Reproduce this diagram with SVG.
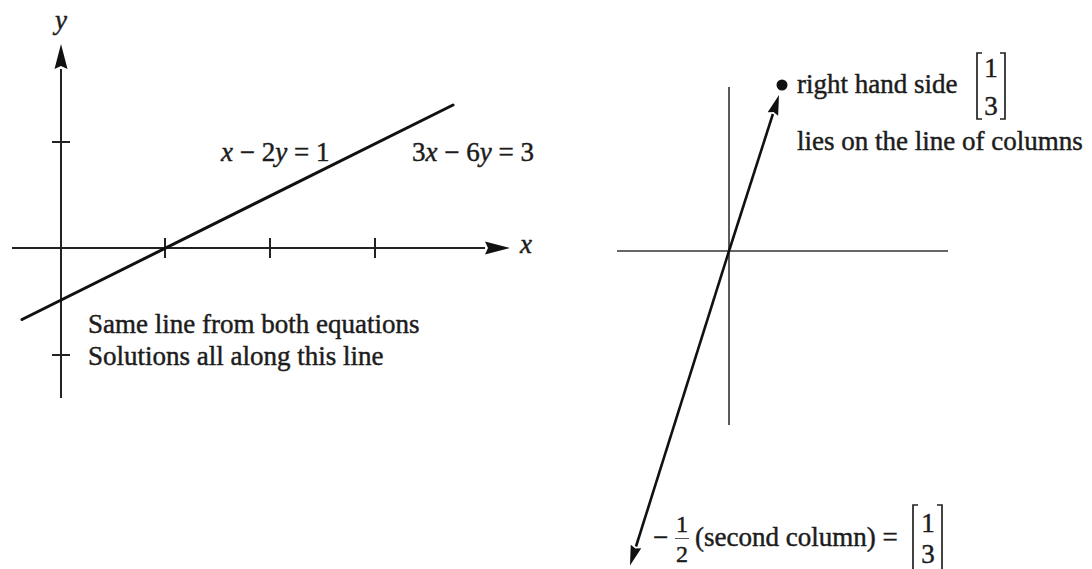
<svg xmlns="http://www.w3.org/2000/svg" width="1092" height="569" viewBox="0 0 1092 569">
<style>
  .t { font-family: "Liberation Serif", "Times New Roman", serif; font-size: 27px; fill: #1c1c1c; stroke: #1c1c1c; stroke-width: 0.45; }
  .i { font-style: italic; }
  .ax { stroke: #222; stroke-width: 2; fill: none; }
  .ax2 { stroke: #333; stroke-width: 1.6; fill: none; }
  .ln { stroke: #111; stroke-width: 3; fill: none; stroke-linecap: round; }
  .vec { stroke: #111; stroke-width: 2.6; fill: none; }
  .br { stroke: #222; stroke-width: 1.7; fill: none; }
</style>
<defs>
  <marker id="bigHead" markerUnits="userSpaceOnUse" markerWidth="26" markerHeight="14" refX="0" refY="6.5" orient="auto" overflow="visible">
    <path d="M0,0 L25,6.5 L0,13 L3,6.5 z" fill="#111"/>
  </marker>
  <marker id="vecHead" markerUnits="userSpaceOnUse" markerWidth="22" markerHeight="12" refX="0" refY="5.5" orient="auto" overflow="visible">
    <path d="M0,0 L20,5.5 L0,11 L2,5.5 z" fill="#111"/>
  </marker>
</defs>

<g id="left-axes">
  <line class="ax" x1="61" y1="398" x2="61" y2="69" marker-end="url(#bigHead)"/>
  <line class="ax" x1="12" y1="248" x2="485" y2="248" marker-end="url(#bigHead)"/>
  <line class="ax" x1="52" y1="142" x2="70" y2="142"/>
  <line class="ax" x1="52" y1="355" x2="70" y2="355"/>
  <line class="ax" x1="165" y1="238" x2="165" y2="258"/>
  <line class="ax" x1="270" y1="238" x2="270" y2="258"/>
  <line class="ax" x1="375" y1="238" x2="375" y2="258"/>
  <text class="t i" x="61" y="29" text-anchor="middle">y</text>
  <text class="t i" x="520" y="253">x</text>
</g>

<g id="solution-line">
  <line class="ln" x1="22" y1="319.5" x2="453" y2="105"/>
  <text class="t" x="221" y="161"><tspan class="i">x</tspan> − 2<tspan class="i">y</tspan> = 1</text>
  <text class="t" x="412" y="161">3<tspan class="i">x</tspan> − 6<tspan class="i">y</tspan> = 3</text>
  <text class="t" x="88" y="333">Same line from both equations</text>
  <text class="t" x="88" y="365">Solutions all along this line</text>
</g>

<g id="right-axes">
  <line class="ax2" x1="729" y1="87" x2="729" y2="425"/>
  <line class="ax2" x1="617" y1="251" x2="948" y2="251"/>
</g>

<g id="connectors">
  <line class="vec" x1="729" y1="251" x2="772.9" y2="114" marker-end="url(#vecHead)"/>
  <line class="vec" x1="729" y1="251" x2="636" y2="546.5" marker-end="url(#vecHead)"/>
</g>

<g id="rhs-point">
  <circle cx="782" cy="85" r="5.5" fill="#111"/>
  <text class="t" x="797" y="93">right hand side</text>
  <path class="br" d="M982,53 L977,53 L977,119 L982,119"/>
  <path class="br" d="M1000,53 L1005,53 L1005,119 L1000,119"/>
  <text class="t" x="991" y="77" text-anchor="middle">1</text>
  <text class="t" x="991" y="115" text-anchor="middle">3</text>
  <text class="t" x="797" y="150">lies on the line of columns</text>
</g>

<g id="second-column">
  <text class="t" x="653" y="546">−</text>
  <text class="t" x="682" y="532" text-anchor="middle" style="font-size:24px">1</text>
  <line x1="675" y1="538.5" x2="689" y2="538.5" stroke="#555" stroke-width="1"/>
  <text class="t" x="682" y="562" text-anchor="middle" style="font-size:24px">2</text>
  <text class="t" x="695" y="546">(second column) =</text>
  <path class="br" d="M918,505 L913,505 L913,575"/>
  <path class="br" d="M937,505 L942,505 L942,575"/>
  <text class="t" x="928" y="532" text-anchor="middle">1</text>
  <text class="t" x="928" y="563" text-anchor="middle">3</text>
</g>
</svg>
